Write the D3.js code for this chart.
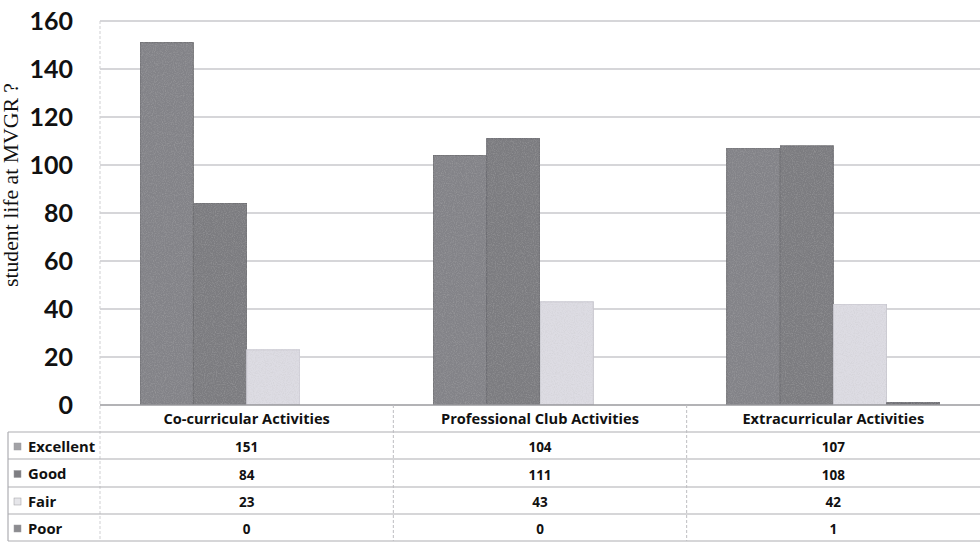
<!DOCTYPE html>
<html><head><meta charset="utf-8">
<script src="https://cdn.jsdelivr.net/npm/d3@7"></script>
<style>body{margin:0;background:#fff}svg{display:block}</style>
</head><body>
<svg id="c" width="980" height="547"></svg>
<script>
const categories = ["Co-curricular Activities", "Professional Club Activities", "Extracurricular Activities"];
const seriesNames = ["Excellent", "Good", "Fair", "Poor"];
const excellent = [151, 104, 107];
const good = [84, 111, 108];
const fair = [23, 43, 42];
const poor = [0, 0, 1];
const yTicks = [0, 20, 40, 60, 80, 100, 120, 140, 160];
const yLabel = "student life at MVGR ?";
const colors = ["#838388", "#7b7b80", "#dddce3", "#707075"];
const legendColors = ["#a2a2a6", "#7e7e82", "#e6e6ea", "#8c8c90"];

(function(){
const series = [excellent, good, fair, poor];
const svg = d3.select("#c");
const mLeft = 100, mTop = 21, mBottom = 405, mRight = 980;
const tFont = "'Open Sans', Lato, sans-serif";

const defs = svg.append("defs");
const f = defs.append("filter").attr("id","grain").attr("x",0).attr("y",0).attr("width",1).attr("height",1);
f.append("feTurbulence").attr("type","fractalNoise").attr("baseFrequency","0.9").attr("numOctaves",2).attr("seed",3).attr("result","n");
f.append("feColorMatrix").attr("in","n").attr("type","matrix")
 .attr("values","0 0 0 0 0.5  0 0 0 0 0.5  0 0 0 0 0.5  0.6 0 0 0 -0.25").attr("result","m");
f.append("feComposite").attr("in","m").attr("in2","SourceGraphic").attr("operator","in").attr("result","mm");
f.append("feMerge").call(s=>{s.append("feMergeNode").attr("in","SourceGraphic");s.append("feMergeNode").attr("in","mm");});

const y = d3.scaleLinear().domain([0, 160]).range([mBottom, mTop]);
const x0 = d3.scaleBand().domain(categories).range([mLeft, mRight]).padding(0);
const x1 = d3.scaleBand().domain(seriesNames).range([40, x0.bandwidth() - 40]).padding(0);

svg.append("g").selectAll("line").data(yTicks.filter(t=>t>0)).join("line")
  .attr("x1", mLeft).attr("x2", mRight).attr("y1", d=>y(d)).attr("y2", d=>y(d))
  .attr("stroke", "#c9c9cd").attr("stroke-width", 1.5);

svg.append("line").attr("x1",mLeft).attr("x2",mLeft).attr("y1",mTop).attr("y2",541)
  .attr("stroke","#cfcfd2").attr("stroke-width",1).attr("stroke-dasharray","3,2");

svg.append("g").selectAll("text").data(yTicks).join("text")
  .attr("x", 73).attr("y", d=>y(d)).attr("dy","0.36em")
  .attr("text-anchor","end").attr("font-family","Lato, 'Open Sans', sans-serif")
  .attr("font-weight","700").attr("font-size",25).attr("fill","#111")
  .text(d=>d);

svg.append("text").attr("transform","translate(18,185) rotate(-90)")
  .attr("text-anchor","middle").attr("font-family","'Liberation Serif', 'DejaVu Serif', serif")
  .attr("font-size",21.5).attr("fill","#111")
  .attr("textLength",204).attr("lengthAdjust","spacingAndGlyphs").text(yLabel);

const g = svg.append("g");
categories.forEach((c, ci) => {
  seriesNames.forEach((s, si) => {
    const v = series[si][ci];
    if (v <= 0) return;
    g.append("rect")
      .attr("x", x0(c) + x1(s)).attr("width", x1.bandwidth())
      .attr("y", y(v)).attr("height", y(0) - y(v))
      .attr("fill", colors[si]).attr("stroke", si===2 ? "#c8c7d0" : "#6c6c70").attr("stroke-width", 1)
      .attr("filter","url(#grain)");
  });
});

svg.append("line").attr("x1",mLeft).attr("x2",mRight).attr("y1",mBottom).attr("y2",mBottom)
  .attr("stroke","#9a9a9e").attr("stroke-width",1.5);

const rowY = [432, 459, 487, 514, 541];
const tbl = svg.append("g");
rowY.forEach((ry) => {
  tbl.append("line").attr("x1", 8).attr("x2", mRight).attr("y1", ry).attr("y2", ry)
    .attr("stroke", "#aeaeb2").attr("stroke-width", 1.2);
});
tbl.append("line").attr("x1",8).attr("x2",8).attr("y1",432).attr("y2",541).attr("stroke","#aeaeb2").attr("stroke-width",1.2);
categories.forEach((c, ci) => {
  if (ci > 0) tbl.append("line").attr("x1", x0(c)).attr("x2", x0(c)).attr("y1", mBottom).attr("y2", 541)
     .attr("stroke", "#bdbdc1").attr("stroke-width", 1).attr("stroke-dasharray","3,2");
  tbl.append("text").attr("x", x0(c) + x0.bandwidth()/2).attr("y", 419).attr("dy","0.35em")
    .attr("text-anchor","middle").attr("font-family",tFont)
    .attr("font-weight","700").attr("font-size",14.6).attr("fill","#111").text(c);
  seriesNames.forEach((s, si) => {
    tbl.append("text").attr("x", x0(c) + x0.bandwidth()/2).attr("y", (rowY[si]+rowY[si+1])/2 + 2).attr("dy","0.35em")
      .attr("text-anchor","middle").attr("font-family",tFont)
      .attr("font-weight","700").attr("font-size",13.5).attr("fill","#111").text(series[si][ci]);
  });
});
seriesNames.forEach((s, si) => {
  const cy = (rowY[si]+rowY[si+1])/2 + 1;
  tbl.append("rect").attr("x",14).attr("y",cy-3.5).attr("width",7).attr("height",7)
    .attr("fill",legendColors[si]).attr("stroke","#9a9a9e").attr("stroke-width",0.5);
  tbl.append("text").attr("x",28).attr("y",cy).attr("dy","0.35em")
    .attr("font-family",tFont).attr("font-weight","700")
    .attr("font-size",14.8).attr("fill","#111").text(s);
});
})();
</script>
</body></html>
